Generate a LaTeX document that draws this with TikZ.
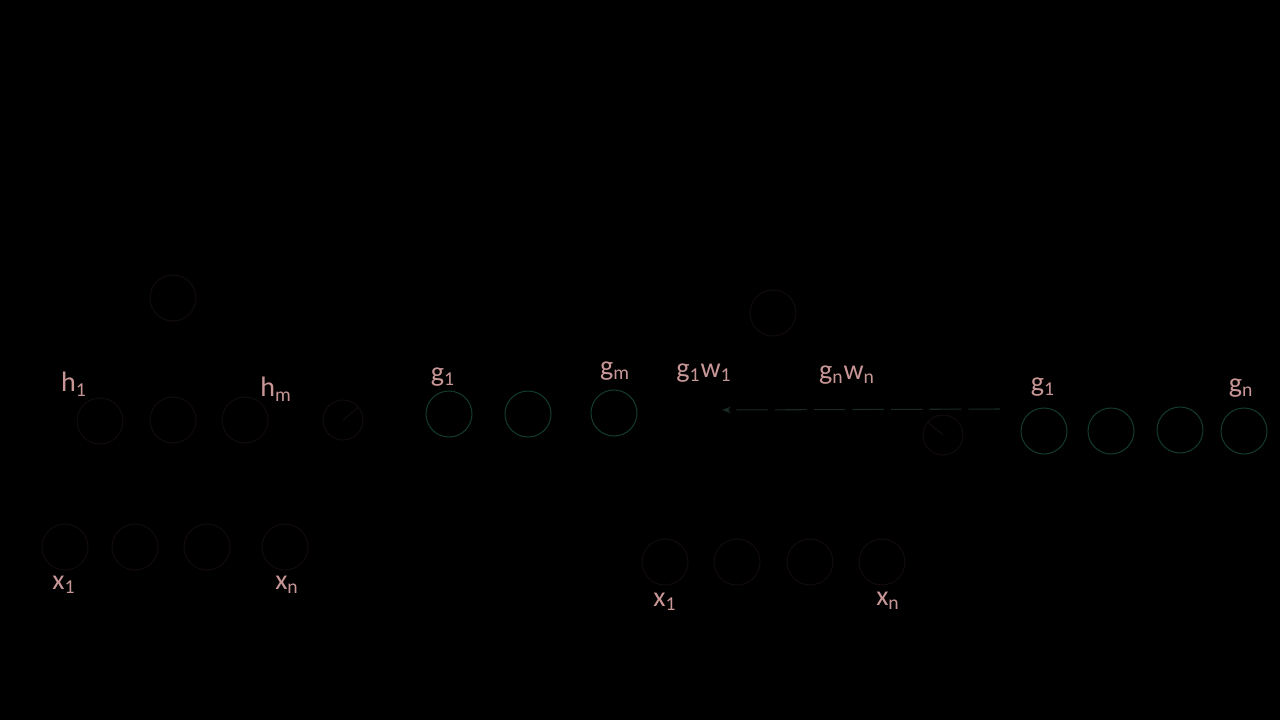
\documentclass[tikz,border=0pt]{standalone}
\usepackage{fontspec}
\setmainfont{Carlito}
\usetikzlibrary{arrows.meta}
\definecolor{txt}{RGB}{200,150,150}
\definecolor{dk}{RGB}{17,12,10}
\definecolor{gr}{RGB}{18,58,42}
\definecolor{ln}{RGB}{24,42,34}
\begin{document}
\begin{tikzpicture}[x=0.02cm,y=-0.02cm,
  unit/.style={circle,draw=dk,line width=0.6pt,minimum size=0.92cm,inner sep=0pt},
  gunit/.style={circle,draw=gr,line width=0.6pt,minimum size=0.92cm,inner sep=0pt},
  bunit/.style={circle,draw=dk,line width=0.6pt,minimum size=0.8cm,inner sep=0pt},
  lab/.style={text=txt,font=\fontsize{16}{19}\selectfont,inner sep=0pt}]
\fill[black] (0,0) rectangle (1280,720);
\useasboundingbox (0,0) rectangle (1280,720);
% left network
\node[unit] (top) at (173,298) {};
\node[unit] (h1) at (100,421) {};
\node[unit] (h2) at (173,420) {};
\node[unit] (h3) at (245,420) {};
\node[bunit] (hb) at (343,420) {};
\draw[dk,line width=0.6pt] (hb.center) -- (hb.40);
\node[unit] (x1) at (65,547) {};
\node[unit] (x2) at (135,547) {};
\node[unit] (x3) at (207,547) {};
\node[unit] (x4) at (285,547) {};
\node[lab] (lh1) at (74,384) {h\textsubscript{1}};
\node[lab] (lhm) at (276,389) {h\textsubscript{m}};
\node[lab] (lx1) at (64,585) {x\textsubscript{1}};
\node[lab] (lxn) at (287,585) {x\textsubscript{n}};
% middle g units
\node[gunit] (g1) at (449,414) {};
\node[gunit] (g2) at (528,414) {};
\node[gunit] (g3) at (614,413) {};
\node[lab] (lg1) at (443,377) {g\textsubscript{1}};
\node[lab] (lgm) at (615,371) {g\textsubscript{m}};
% right network
\node[unit] (rtop) at (773,313) {};
\node[lab] (lgw1) at (704,373) {g\textsubscript{1}w\textsubscript{1}};
\node[lab] (lgwn) at (847,375) {g\textsubscript{n}w\textsubscript{n}};
\node[bunit] (rb) at (943,435) {};
\draw[dk,line width=0.6pt] (rb.140) -- (rb.center);
\coordinate (lineR) at (1000,409);
\coordinate (lineL) at (722,410);
\draw[ln,line width=0.6pt,dash pattern=on 18pt off 4pt,-{Stealth[length=5pt]}] (lineR) -- (lineL);
\node[gunit] (rg1) at (1044,431) {};
\node[gunit] (rg2) at (1111,431) {};
\node[gunit] (rg3) at (1180,430) {};
\node[gunit] (rg4) at (1244,431) {};
\node[lab] (lrg1) at (1043,387) {g\textsubscript{1}};
\node[lab] (lrgn) at (1241,388) {g\textsubscript{n}};
\node[unit] (rx1) at (665,562) {};
\node[unit] (rx2) at (737,562) {};
\node[unit] (rx3) at (810,562) {};
\node[unit] (rx4) at (882,562) {};
\node[lab] (lrx1) at (665,602) {x\textsubscript{1}};
\node[lab] (lrxn) at (888,601) {x\textsubscript{n}};
\end{tikzpicture}
\end{document}
